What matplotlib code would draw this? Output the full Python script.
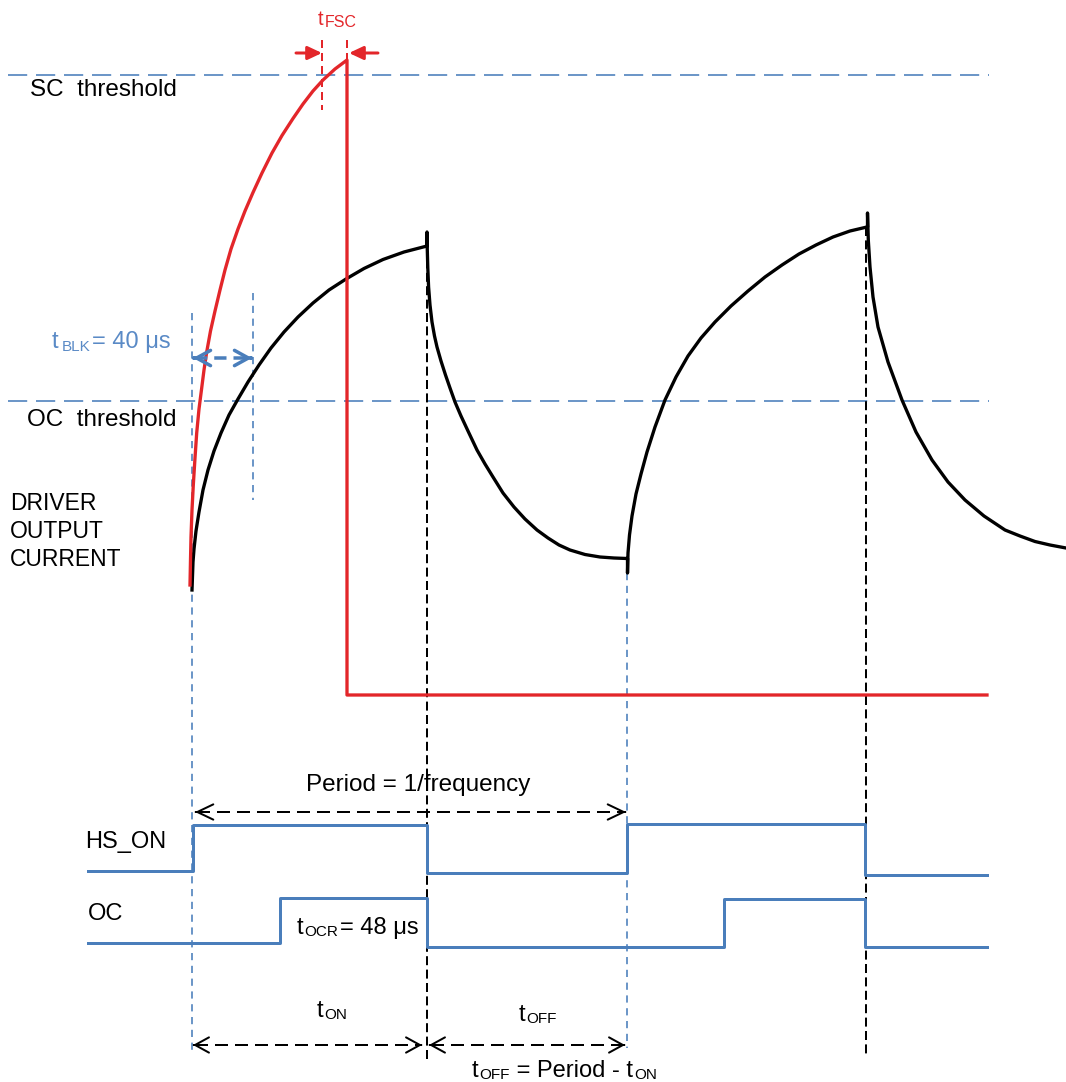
import matplotlib
matplotlib.use("Agg")
import matplotlib.pyplot as plt

plt.rcParams['font.family'] = ['Liberation Sans', 'DejaVu Sans']

# ---------------- data (diagram units: x = time axis, y = level, downward) -------------
# Driver output current, normal PWM operation (black): rise, fall, rise, fall
rise1_x = [192, 193, 194, 196, 199, 203, 208, 214, 221, 229, 238, 248, 259, 271, 284, 298, 313, 329,
           346, 364, 383, 404, 427]
rise1_y = [590, 562, 549, 531, 512, 490, 470, 451, 433, 415, 399, 382, 365, 348, 332, 317, 303, 290,
           279, 268.5, 259.5, 252, 246]
fall1_x = [427, 427, 427.3, 427.8, 428.6, 430, 432, 434.5, 437, 441, 445.5, 450, 455, 461, 468, 477, 485,
           493, 503, 514, 525, 537, 548, 559, 570, 585, 600, 614, 627]
fall1_y = [246, 232, 250, 268, 287, 305, 322, 336, 347, 361, 375, 388, 402, 416, 431, 450, 464,
           477, 493, 507, 519, 530, 538, 545, 550, 554.5, 557, 558, 558.5]
rise2_x = [627.5, 627.5, 628, 629.5, 632, 636, 641, 647, 655, 665, 676, 688, 701, 715, 731, 748, 765,
           782, 799, 816, 833, 850, 867]
rise2_y = [558.5, 573, 553, 535, 516, 494, 474, 452, 427, 400, 377, 356, 338, 322, 306, 291, 277,
           265, 254, 245, 237, 231, 227]
fall2_x = [867.5, 867.5, 868.3, 870, 873, 878, 888, 902, 916, 932, 948, 965, 984, 1005, 1020, 1035,
           1050, 1066]
fall2_y = [227, 213, 240, 267, 297, 327, 362, 400, 432, 460, 482, 500, 516, 530, 536, 541.5,
           545, 548]

# Driver output current during short circuit (red)
sc_x = [190, 190.5, 191, 192, 193.3, 195, 196.7, 199, 201.7, 204, 206.7, 210.5, 215, 220, 225, 231, 238,
        245, 253, 262, 272, 282, 293, 303, 313, 323, 335, 347, 347, 987]
sc_y = [585, 560, 537, 510, 485, 458, 433, 409, 388, 370, 352, 331, 311, 290, 270, 249, 229,
        211, 192.5, 173, 153, 135.5, 118.5, 104, 91, 80, 69, 60, 695, 695]

# Thresholds
thr_names = ['SC  threshold', 'OC  threshold']
thr_level = [75, 401]
thr_span = [8, 989]

# Digital signals (step, post)
hs_t = [88, 193, 427, 627, 865, 987]
hs_lv = [871, 825, 873, 824, 875, 875]
oc_t = [88, 280, 427, 724, 865, 987]
oc_lv = [943, 898, 947, 899, 947, 947]

# Time markers (x, y_top, y_bottom)
blue_marks = [(192, 313, 1050), (253, 293, 500), (627, 573, 1048)]
black_marks = [(427, 246, 1060), (866, 227, 1055)]
red_marks = [(322, 40, 110), (347, 40, 61)]

BLUE = '#4A7EBB'
BLUE_TXT = '#5A8AC6'
RED = '#E3262A'
PX = 0.72  # points per pixel at 100 dpi

fig = plt.figure(figsize=(10.66, 10.82), dpi=100)
ax = fig.add_axes([0, 0, 1, 1])
ax.set_xlim(0, 1066)
ax.set_ylim(1082, 0)
ax.axis('off')

# thresholds
for lv in thr_level:
    ax.plot(thr_span, [lv, lv], color=BLUE, lw=1.6 * PX, ls=(0, (12, 5.5)), solid_capstyle='butt')

# vertical markers
for x, y0, y1 in blue_marks:
    ax.plot([x, x], [y0, y1], color=BLUE, lw=1.6 * PX, ls=(0, (4.5, 3.5)))
for x, y0, y1 in black_marks:
    ax.plot([x, x], [y0, y1], color='black', lw=2 * PX, ls=(0, (4.5, 2.2)))
for x, y0, y1 in red_marks:
    ax.plot([x, x], [y0, y1], color=RED, lw=2 * PX, ls=(0, (4, 2.5)))

# curves
cur_x = rise1_x + fall1_x + rise2_x + fall2_x
cur_y = rise1_y + fall1_y + rise2_y + fall2_y
ax.plot(cur_x, cur_y, color='black', lw=3.3 * PX, solid_joinstyle='round')
ax.plot(sc_x, sc_y, color=RED, lw=3.3 * PX, solid_joinstyle='round')

# signals
ax.plot(hs_t, hs_lv, drawstyle='steps-post', color=BLUE, lw=3 * PX)
ax.plot(oc_t, oc_lv, drawstyle='steps-post', color=BLUE, lw=3 * PX)


def head(x_tip, y, d, color, lw, hl, hw, style='->'):
    ax.annotate('', xy=(x_tip, y), xytext=(x_tip - d * 1.0, y),
                arrowprops=dict(arrowstyle=f'{style},head_length={hl},head_width={hw}',
                                color=color, lw=lw, shrinkA=0, shrinkB=0, mutation_scale=1))


def dbl_arrow(x0, x1, y, color, lw, dash, hl, hw):
    ax.plot([x0 + 2, x1 - 2], [y, y], color=color, lw=lw, ls=(0, dash), solid_capstyle='butt')
    head(x0, y, -1, color, lw, hl, hw)
    head(x1, y, 1, color, lw, hl, hw)


# tBLK arrow
dbl_arrow(193, 252, 358, BLUE, 3.5 * PX, (3.5, 2.0), 10, 5.5)
# Period arrow
dbl_arrow(195, 626, 812, 'black', 2 * PX, (6.5, 3.5), 11.5, 5.5)
# tON / tOFF arrows
dbl_arrow(193, 422, 1045, 'black', 2 * PX, (6.5, 3.5), 10, 5.5)
dbl_arrow(429, 625, 1045, 'black', 2 * PX, (6.5, 3.5), 10, 5.5)

# tFSC arrows (solid, filled heads)
ax.annotate('', xy=(322, 53), xytext=(296, 53),
            arrowprops=dict(arrowstyle='-|>,head_length=8.5,head_width=4', color=RED,
                            lw=3 * PX, shrinkA=0, shrinkB=0, mutation_scale=1))
ax.annotate('', xy=(349, 53), xytext=(378, 53),
            arrowprops=dict(arrowstyle='-|>,head_length=8.5,head_width=4', color=RED,
                            lw=3 * PX, shrinkA=0, shrinkB=0, mutation_scale=1))

# ---------------- text ----------------
FS = 17.5
ax.text(30, 96, thr_names[0], fontsize=FS, color='black', va='baseline')
ax.text(27, 426, thr_names[1], fontsize=FS, color='black', va='baseline')
for i, s in enumerate(['DRIVER', 'OUTPUT', 'CURRENT']):
    ax.text(10, 510 + 28 * i, s, fontsize=16.5, color='black', va='baseline')
ax.text(418, 791, 'Period = 1/frequency', fontsize=FS, color='black', va='baseline', ha='center')
ax.text(85, 848, 'HS_ON', fontsize=17, color='black', va='baseline')
ax.text(88, 920, 'OC', fontsize=17, color='black', va='baseline')

fig.canvas.draw()
R = fig.canvas.get_renderer()
inv = ax.transData.inverted()


def rich(x, y, parts, color):
    cur = x
    for s, size, dy, gap in parts:
        cur += gap
        t = ax.text(cur, y + dy, s, fontsize=size, color=color, ha='left', va='baseline')
        bb = t.get_window_extent(renderer=R)
        cur = inv.transform((bb.x1, bb.y0))[0]


rich(318, 25, [('t', 14.5, 0, 0), ('FSC', 11.5, 2, 1)], RED)
rich(52, 348, [('t', 17, 0, 0), ('BLK', 11, 3, 3), ('= 40 \u03bcs', 17, 0, 2)], BLUE_TXT)
rich(297, 934, [('t', 17, 0, 0), ('OCR', 11, 2, 1), ('= 48 \u03bcs', 17, 0, 2)], 'black')
rich(317, 1017, [('t', 17, 0, 0), ('ON', 11, 2, 1)], 'black')
rich(519, 1021, [('t', 17, 0, 0), ('OFF', 11, 2, 1)], 'black')
rich(472, 1077, [('t', 17, 0, 0), ('OFF', 11, 2, 1), (' = Period - t', 17, 0, 0), ('ON', 11, 2, 1)], 'black')

fig.savefig('out.png', dpi=100)
